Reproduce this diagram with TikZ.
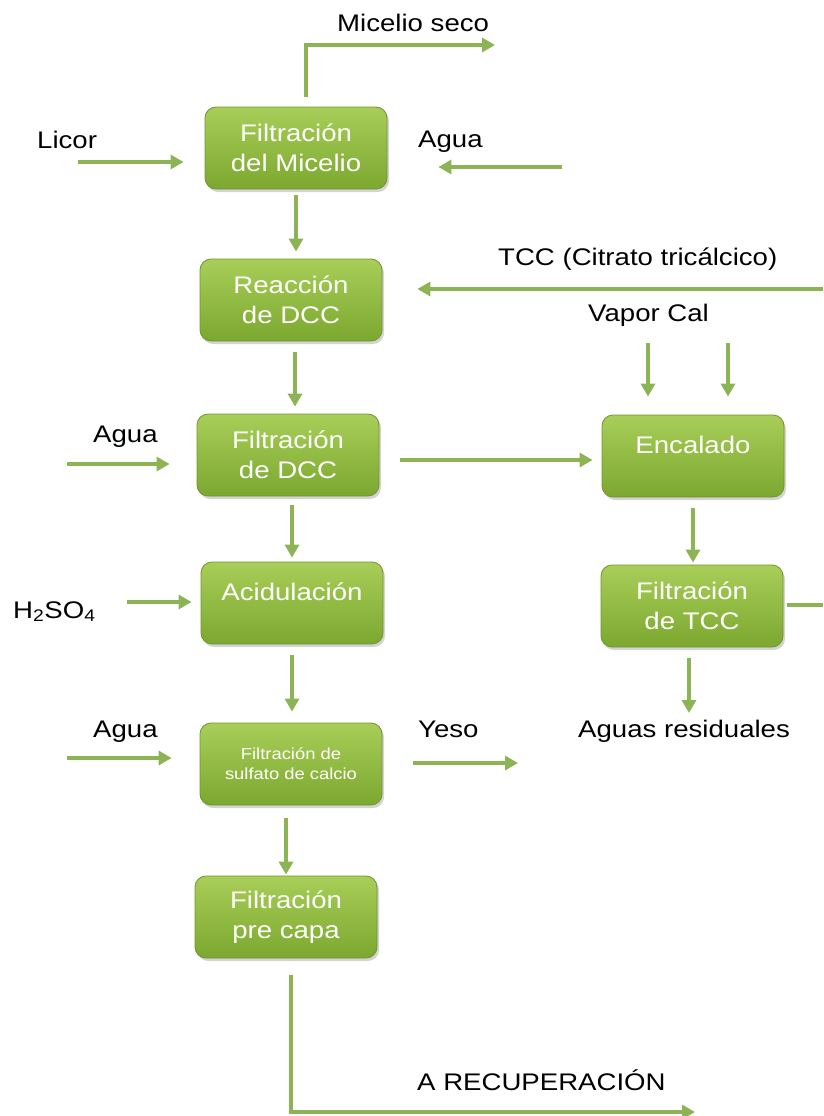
\documentclass[tikz,border=0pt]{standalone}
\usepackage{fontspec}
\setmainfont{Liberation Sans}[FakeStretch=1.15]
\usetikzlibrary{arrows.meta,shadows}
\definecolor{boxtop}{RGB}{168,206,88}
\definecolor{boxmid}{RGB}{146,191,66}
\definecolor{boxbot}{RGB}{124,168,48}
\definecolor{boxline}{RGB}{112,148,50}
\definecolor{flowc}{RGB}{141,180,84}

\begin{document}
\begin{tikzpicture}[x=1pt,y=-1pt,
  font=\fontsize{24}{30}\selectfont,
  proc/.style={rectangle, rounded corners=11pt, draw=boxline, line width=0.8pt,
    top color=boxtop, middle color=boxmid, bottom color=boxbot, text=white, align=center,
    minimum width=182pt, minimum height=82pt,
    drop shadow={shadow xshift=2pt, shadow yshift=-3pt, opacity=0.35}},
  single/.style={proc, text height=32pt, text depth=38pt, inner ysep=6pt},
  lbl/.style={anchor=base west, inner sep=0pt},
  flow/.style={draw=flowc, line width=4pt, -{Triangle[length=13pt,width=14pt]}}]
  \useasboundingbox (0,0) rectangle (823,1116);

  % Process boxes
  \node[proc] (micelio) at (296,148) {Filtración\\del Micelio};
  \node[proc] (reaccion) at (291,300) {Reacción\\de DCC};
  \node[proc] (filtdcc) at (288,455) {Filtración\\de DCC};
  \node[single] (acid) at (292,603) {Acidulación};
  \node[proc, font=\fontsize{16}{20}\selectfont] (sulfato) at (291,764) {Filtración de\\sulfato de calcio};
  \node[proc] (precapa) at (286,917) {Filtración\\pre capa};
  \node[single] (encalado) at (693,456) {Encalado};
  \node[proc] (filttcc) at (692,606) {Filtración\\de TCC};

  % Labels
  \node[lbl] (lseco) at (337,32) {Micelio seco};
  \node[lbl] (llicor) at (37,148) {Licor};
  \node[lbl] (lagua1) at (418,147) {Agua};
  \node[lbl] (ltcc) at (498,265) {TCC (Citrato tricálcico)};
  \node[lbl] (lvapor) at (588,321) {Vapor Cal};
  \node[lbl] (lagua2) at (93,442) {Agua};
  \node[lbl] (lacido) at (13,618) {H\textsubscript{2}SO\textsubscript{4}};
  \node[lbl] (lagua3) at (93,737) {Agua};
  \node[lbl] (lyeso) at (418,737) {Yeso};
  \node[lbl] (lresid) at (578,737) {Aguas residuales};
  \node[lbl] (lrecup) at (417,1090) {A RECUPERACIÓN};

  % Free ends
  \coordinate (seco) at (495,45);
  \coordinate (licor) at (78,162);
  \coordinate (agua1) at (562,167);
  \coordinate (tcc) at (823,289);
  \coordinate (vapor) at (648,343);
  \coordinate (cal) at (728,343);
  \coordinate (agua2) at (67,464);
  \coordinate (acido) at (127,602);
  \coordinate (agua3) at (67,758);
  \coordinate (yeso) at (518,763);
  \coordinate (resid) at (689,713);
  \coordinate (tccout) at (823,605);
  \coordinate (recup) at (695,1112);

  % Flows
  \draw[flow, shorten <=10pt] ([xshift=10pt]micelio.north) |- (seco);
  \draw[flow, shorten >=21pt] (licor) -- (licor -| micelio.west);
  \draw[flow, shorten >=51pt] (agua1) -- (agua1 -| micelio.east);
  \draw[flow, shorten <=6pt, shorten >=7pt] (micelio.south) -- (micelio.south |- reaccion.north);
  \draw[flow, shorten <=11pt, shorten >=7pt] ([xshift=4pt]reaccion.south) -- ([xshift=4pt]reaccion.south |- filtdcc.north);
  \draw[flow, shorten >=27pt] (agua2) -- (agua2 -| filtdcc.west);
  \draw[flow, shorten <=21pt, shorten >=9pt] ([yshift=-5pt]filtdcc.east) -- ([yshift=-5pt]filtdcc.east -| encalado.west);
  \draw[flow, shorten >=35pt] (tcc) -- (tcc -| reaccion.east);
  \draw[flow, shorten >=18pt] (vapor) -- (vapor |- encalado.north);
  \draw[flow, shorten >=18pt] (cal) -- (cal |- encalado.north);
  \draw[flow, shorten <=11pt, shorten >=2pt] (encalado.south) -- (encalado.south |- filttcc.north);
  \draw[flow, -, shorten <=4pt] (filttcc.east |- tccout) -- (tccout);
  \draw[flow, shorten <=9pt, shorten >=4pt] (acid.north |- filtdcc.south) -- (acid.north);
  \draw[flow, shorten >=9pt] (acido) -- (acido -| acid.west);
  \draw[flow, shorten <=11pt, shorten >=11pt] (acid.south) -- (acid.south |- sulfato.north);
  \draw[flow, shorten >=28pt] (agua3) -- (agua3 -| sulfato.west);
  \draw[flow, shorten <=31pt] (yeso -| sulfato.east) -- (yeso);
  \draw[flow, shorten <=11pt] (resid |- filttcc.south) -- (resid);
  \draw[flow, shorten <=13pt, shorten >=1pt] (precapa.north |- sulfato.south) -- (precapa.north);
  \draw[flow, shorten <=17pt] ([xshift=5pt]precapa.south) |- (recup);
\end{tikzpicture}
\end{document}
